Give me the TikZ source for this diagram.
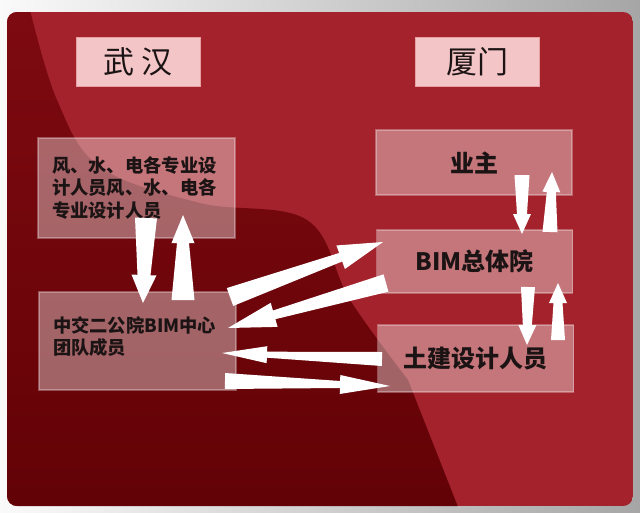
\documentclass[tikz,border=0pt]{standalone}
\usepackage{fontspec}
\setmainfont{Noto Sans CJK SC}
\usetikzlibrary{calc}
\definecolor{redmid}{HTML}{A3222B}
\definecolor{darktop}{HTML}{7E0A11}
\definecolor{darkbot}{HTML}{620206}
\definecolor{titlefill}{HTML}{F3C5C7}
\definecolor{titleedge}{HTML}{E6A0A4}
\definecolor{textc}{HTML}{1C1414}
\newcommand\barrow[6]{%
  \coordinate (bN) at ($(#2)!#6pt!(#1)$);
  \fill[arrowfill] ($(#1)!0.5*#3pt!90:(#2)$) -- ($(bN)!0.5*#4pt!90:(#2)$) --
    ($(bN)!0.5*#5pt!90:(#2)$) -- (#2) -- ($(bN)!0.5*#5pt!-90:(#2)$) --
    ($(bN)!0.5*#4pt!-90:(#2)$) -- ($(#1)!0.5*#3pt!-90:(#2)$) -- cycle;}
\begin{document}
\begin{tikzpicture}[x=1pt,y=-1pt,
  title/.style={draw=titleedge, line width=1pt, fill=titlefill, minimum width=124pt,
    minimum height=49pt, inner sep=0pt, text=textc, font=\fontsize{31}{36}\selectfont},
  box/.style={draw=white, draw opacity=0.3, line width=1.2pt, fill=white, fill opacity=0.38,
    text opacity=1, text=textc, inner sep=0pt},
  leftbox/.style={box, text width=169pt, inner xsep=14pt, align=left,
    font=\bfseries\fontsize{18.3}{22.5}\selectfont},
  rightbox/.style={box, minimum width=196pt, font=\bfseries\fontsize{24}{28}\selectfont},
  arrowfill/.style={fill=white}]
\useasboundingbox (0,0) rectangle (640,512);
% backdrop
\shade[left color=white!96!gray, right color=gray!70] (0,0) rectangle (640,512);
\begin{scope}
  \clip[rounded corners=10pt] (7,12) rectangle (633,506);
  \fill[redmid] (7,12) rectangle (633,506);
  \shade[top color=darktop, bottom color=darkbot] (0,0) -- (30,0) --
    plot[smooth, tension=0.6] coordinates {(30,10) (57,100) (100,167) (200,203) (307,220) (350,300) (408,380)}
    -- (460,512) -- (0,512) -- cycle;
\end{scope}
% titles
\node[title] (wuhan) at (138,61.5) {武 汉};
\node[title] (xiamen) at (477.5,61.5) {厦门};
% boxes
\node[leftbox, minimum height=100pt] (lt) at (136.5,188) {风、水、电各专业设\\计人员风、水、电各\\专业设计人员};
\node[leftbox, minimum height=98pt, text depth=33pt] (lb) at (137.5,341) {中交二公院BIM中心\\团队成员};
\node[rightbox, minimum height=65pt] (yz) at (474,162.5) {业主};
\node[rightbox, minimum height=63pt] (bim) at (474.5,261.5) {BIM总体院};
\node[rightbox, minimum height=67pt] (tj) at (475.5,358.5) {土建设计人员};
% arrow ends
\coordinate (d1s) at (146,218); \coordinate (d1e) at (143,303);
\coordinate (u1s) at (183,300); \coordinate (u1e) at (183,215);
\coordinate (ars) at (230,297); \coordinate (are) at (383,242);
\coordinate (als) at (386,283); \coordinate (ale) at (228,328);
\coordinate (hls) at (382,359); \coordinate (hle) at (222,353);
\coordinate (hrs) at (225,381); \coordinate (hre) at (390,386);
\coordinate (d2s) at (522,175); \coordinate (d2e) at (522,234);
\coordinate (u2s) at (550,232); \coordinate (u2e) at (552,172);
\coordinate (d3s) at (528,287); \coordinate (d3e) at (527,345);
\coordinate (u3s) at (558,340); \coordinate (u3e) at (558,283);
% arrows
\barrow{d1s}{d1e}{22}{13}{25}{28}
\barrow{u1s}{u1e}{23}{12}{23}{28}
\barrow{ars}{are}{19}{9}{25}{45}
\barrow{als}{ale}{18}{9}{25}{48}
\barrow{hls}{hle}{14}{6}{17}{45}
\barrow{hrs}{hre}{16}{7}{19}{50}
\barrow{d2s}{d2e}{15}{10}{18}{20}
\barrow{u2s}{u2e}{15}{9}{18}{20}
\barrow{d3s}{d3e}{14}{9}{18}{20}
\barrow{u3s}{u3e}{14}{9}{18}{20}
\end{tikzpicture}
\end{document}
